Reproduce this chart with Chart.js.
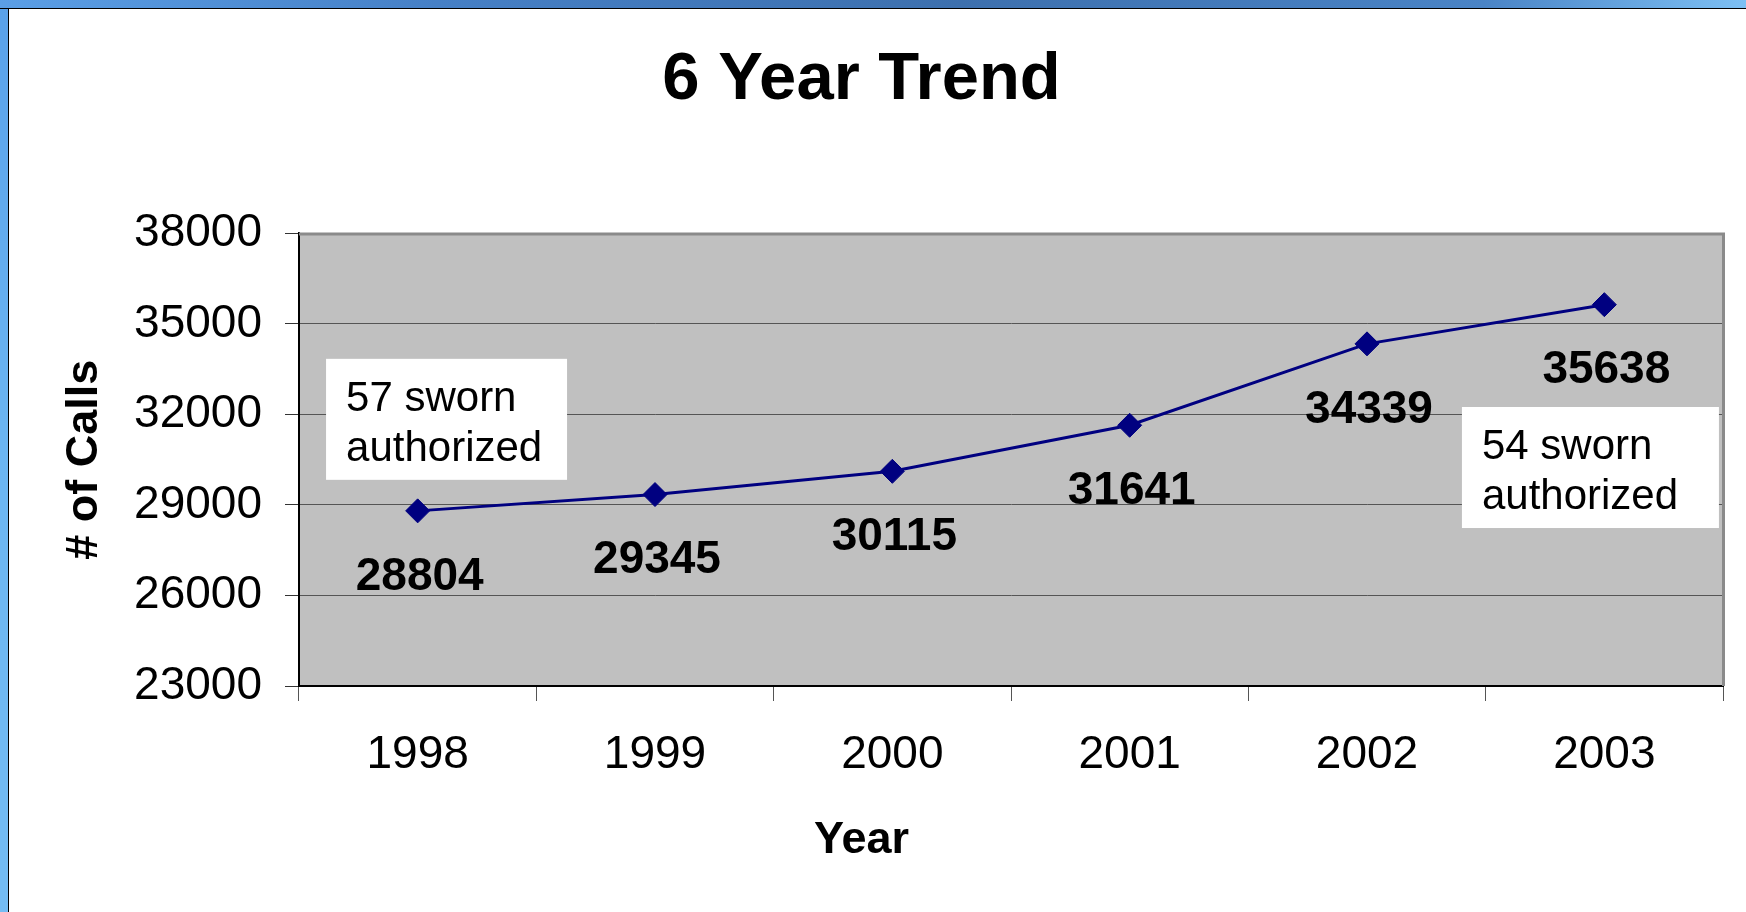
<!DOCTYPE html>
<html>
<head>
<meta charset="utf-8">
<script src="https://cdn.jsdelivr.net/npm/chart.js@4.4.0/dist/chart.umd.min.js"></script>
<style>
  html, body { margin: 0; padding: 0; background: #fff; overflow: hidden; }
  #wrap { position: relative; width: 1746px; height: 912px; background: #fff; }
  #topBand { position: absolute; left: 0; top: 0; width: 1746px; height: 8px;
    background: linear-gradient(to right, #5b9fe6 0%, #4680c6 25%, #3d70ae 55%, #4a84c6 85%, #7dc0f4 100%);
    border-bottom: 1px solid #000; }
  #leftBand { position: absolute; left: 0; top: 9px; width: 8px; height: 903px;
    background: linear-gradient(to bottom, #5aa2ea 0%, #6cb6f2 50%, #74bcf3 100%);
    border-right: 1px solid #000; }
  canvas { position: absolute; left: 0; top: 0; }
</style>
</head>
<body>
<div id="wrap">
  <canvas id="trendChart" width="1746" height="912"></canvas>
  <div id="topBand"></div>
  <div id="leftBand"></div>
</div>
<script>
const years = ['1998', '1999', '2000', '2001', '2002', '2003'];
const calls = [28804, 29345, 30115, 31641, 34339, 35638];
const yTicks = [23000, 26000, 29000, 32000, 35000, 38000];
const noteLeft = ['57 sworn', 'authorized'];
const noteRight = ['54 sworn', 'authorized'];

const FONT = "'Liberation Sans', Arial, Helvetica, sans-serif";
Chart.defaults.font.family = FONT;
Chart.defaults.color = '#000';

// grey plot background + top/right frame
const plotFrame = {
    id: 'plotFrame',
    beforeDraw(chart) {
        const { ctx, chartArea: a } = chart;
        ctx.save();
        ctx.fillStyle = '#c0c0c0';
        ctx.fillRect(a.left, a.top, a.right - a.left, a.bottom - a.top);
        ctx.restore();
    },
    beforeDatasetsDraw(chart) {
        const { ctx, chartArea: a } = chart;
        ctx.save();
        ctx.strokeStyle = '#8a8a8a';
        ctx.lineWidth = 3;
        ctx.beginPath();
        ctx.moveTo(a.left, a.top + 0.5);
        ctx.lineTo(a.right + 0.5, a.top + 0.5);
        ctx.lineTo(a.right + 0.5, a.bottom);
        ctx.stroke();
        ctx.restore();
    }
};

// value labels under each point
const valueLabels = {
    id: 'valueLabels',
    afterDatasetsDraw(chart) {
        const { ctx } = chart;
        const meta = chart.getDatasetMeta(0);
        ctx.save();
        ctx.font = 'bold 46px ' + FONT;
        ctx.fillStyle = '#000';
        ctx.textAlign = 'center';
        ctx.textBaseline = 'middle';
        meta.data.forEach((pt, i) => {
            ctx.fillText(String(calls[i]), pt.x + 2, pt.y + 66);
        });
        ctx.restore();
    }
};

// white text boxes, anchored in axis units (category index, value)
const notes = {
    id: 'notes',
    afterDatasetsDraw(chart, args, opts) {
        const { ctx } = chart;
        const xs = chart.scales.x, ys = chart.scales.y;
        ctx.save();
        ctx.font = '42px ' + FONT;
        ctx.textAlign = 'left';
        ctx.textBaseline = 'alphabetic';
        opts.items.forEach(n => {
            const x = xs.getPixelForValue(n.at[0]);
            const y = ys.getPixelForValue(n.at[1]);
            ctx.fillStyle = '#fff';
            ctx.fillRect(x, y, n.w, n.h);
            ctx.fillStyle = '#000';
            n.lines.forEach((t, k) => ctx.fillText(t, x + 20, y + 52 + k * 50));
        });
        ctx.restore();
    }
};

new Chart(document.getElementById('trendChart'), {
    type: 'line',
    data: {
        labels: years,
        datasets: [{
            label: '# of Calls',
            data: calls,
            borderColor: '#000080',
            backgroundColor: '#000080',
            borderWidth: 3,
            tension: 0,
            fill: false,
            pointStyle: 'rectRot',
            pointRadius: 12,
            pointBorderWidth: 1,
            pointBackgroundColor: '#000080',
            pointBorderColor: '#000080'
        }]
    },
    options: {
        responsive: false,
        animation: false,
        layout: { padding: { left: 0, right: 23, top: 0, bottom: 0 } },
        plugins: {
            legend: { display: false },
            tooltip: { enabled: false },
            title: {
                display: true,
                text: '6 Year Trend',
                color: '#000',
                font: { size: 67, weight: 'bold' },
                padding: { top: 40, bottom: 113 }
            },
            subtitle: {
                display: true,
                position: 'bottom',
                text: 'Year',
                color: '#000',
                font: { size: 45, weight: 'bold' },
                padding: { top: 24, bottom: 44 }
            },
            notes: {
                items: [
                    { lines: noteLeft, at: [-0.386, 33843], w: 241, h: 121 },
                    { lines: noteRight, at: [4.40, 32246], w: 257, h: 121 }
                ]
            }
        },
        scales: {
            x: {
                offset: true,
                grid: {
                    offset: true,
                    drawOnChartArea: false,
                    drawTicks: true,
                    tickLength: 15,
                    color: '#555'
                },
                border: { display: true, color: '#000', width: 2 },
                ticks: { font: { size: 46 }, color: '#000', padding: 27, maxRotation: 0 },
                afterFit(scale) { scale.height = 104; }
            },
            y: {
                min: 23000,
                max: 38000,
                afterBuildTicks(scale) { scale.ticks = yTicks.map(v => ({ value: v })); },
                grid: { color: '#555', lineWidth: 1, tickLength: 14, tickColor: '#333' },
                border: { display: true, color: '#000', width: 2 },
                ticks: {
                    font: { size: 46 },
                    color: '#000',
                    padding: 23,
                    callback: v => String(v)
                },
                title: {
                    display: true,
                    text: '# of Calls',
                    color: '#000',
                    font: { size: 45, weight: 'bold' },
                    padding: { top: 58, bottom: 0 }
                },
                afterFit(scale) { scale.width = 299; }
            }
        }
    },
    plugins: [plotFrame, valueLabels, notes]
});
</script>
</body>
</html>
